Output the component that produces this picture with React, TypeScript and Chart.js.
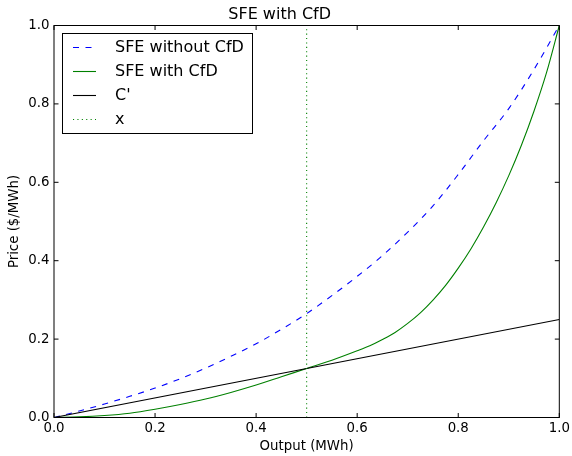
import React, { useEffect, useRef } from "react";
import { Chart, registerables } from "chart.js";

Chart.register(...registerables);

// ---- data ----
const outputMWh = [0, 0.05, 0.1, 0.15, 0.2, 0.25, 0.3, 0.35, 0.4, 0.45, 0.5, 0.55, 0.6, 0.65, 0.7, 0.75, 0.8, 0.85, 0.9, 0.95, 1.0];
const sfeWithoutCfD = [0, 0.0165, 0.0345, 0.054, 0.075, 0.099, 0.126, 0.156, 0.188, 0.225, 0.265, 0.311, 0.36, 0.413, 0.473, 0.54, 0.62, 0.706, 0.788, 0.888, 1.0];
const outputWithCfD = [0, 0.05, 0.1, 0.15, 0.2, 0.25, 0.3, 0.35, 0.4, 0.45, 0.5, 0.55, 0.6, 0.625, 0.65, 0.675, 0.7, 0.725, 0.75, 0.775, 0.8, 0.825, 0.85, 0.875, 0.9, 0.925, 0.95, 0.975, 1.0];
const sfeWithCfD = [0, 0.0015, 0.005, 0.011, 0.021, 0.033, 0.047, 0.064, 0.083, 0.104, 0.125, 0.146, 0.17, 0.183, 0.199, 0.217, 0.24, 0.267, 0.2995, 0.337, 0.381, 0.43, 0.486, 0.548, 0.617, 0.6945, 0.782, 0.881, 1.0];
const marginalCostX = [0, 1];
const marginalCostY = [0, 0.25];
const contractX = [0.5, 0.5];
const contractY = [0, 1];
const tickValues = [0, 0.2, 0.4, 0.6, 0.8, 1.0];
const seriesLabels = ["SFE without CfD", "SFE with CfD", "C'", "x"];

const FONT = "DejaVu Sans, Verdana, sans-serif";

const toPoints = (xs: number[], ys: number[]) => xs.map((x, i) => ({ x, y: ys[i] }));

const framePlugin = {
  id: "frameTicks",
  afterDatasetsDraw(chart: any) {
    const { ctx, chartArea, scales } = chart;
    const { left, right, top, bottom } = chartArea;
    ctx.save();
    ctx.strokeStyle = "#000";
    ctx.lineWidth = 1;
    ctx.setLineDash([]);
    const tl = 4.5;
    ctx.beginPath();
    for (const v of tickValues) {
      const px = scales.x.getPixelForValue(v);
      ctx.moveTo(px, bottom);
      ctx.lineTo(px, bottom - tl);
      ctx.moveTo(px, top);
      ctx.lineTo(px, top + tl);
      const py = scales.y.getPixelForValue(v);
      ctx.moveTo(left, py);
      ctx.lineTo(left + tl, py);
      ctx.moveTo(right, py);
      ctx.lineTo(right - tl, py);
    }
    ctx.stroke();
    ctx.strokeRect(left, top, right - left, bottom - top);
    ctx.restore();
  },
};

const legendPlugin = {
  id: "boxLegend",
  afterDraw(chart: any) {
    const { ctx } = chart;
    ctx.save();
    const bx = 62.5, by = 33.5, bw = 190, bh = 100;
    ctx.fillStyle = "#fff";
    ctx.fillRect(bx, by, bw, bh);
    ctx.strokeStyle = "#000";
    ctx.lineWidth = 1;
    ctx.setLineDash([]);
    ctx.strokeRect(bx, by, bw, bh);
    ctx.font = `16px ${FONT}`;
    ctx.textBaseline = "middle";
    ctx.textAlign = "left";
    chart.data.datasets.forEach((ds: any, i: number) => {
      const y = 47.5 + i * 24;
      ctx.beginPath();
      ctx.strokeStyle = ds.borderColor;
      ctx.lineWidth = ds.borderWidth;
      ctx.setLineDash(ds.borderDash || []);
      ctx.moveTo(73, y);
      ctx.lineTo(96, y);
      ctx.stroke();
      ctx.setLineDash([]);
      ctx.fillStyle = "#000";
      ctx.fillText(ds.label, 115, y);
    });
    ctx.restore();
  },
};

export default function App() {
  const ref = useRef<HTMLCanvasElement | null>(null);
  useEffect(() => {
    if (!ref.current) return;
    const zeroPad = (s: any) => {
      s.paddingLeft = 0;
      s.paddingRight = 0;
      s.paddingTop = 0;
      s.paddingBottom = 0;
    };
    const chart = new Chart(ref.current, {
      type: "line",
      data: {
        datasets: [
          {
            label: seriesLabels[0],
            data: toPoints(outputMWh, sfeWithoutCfD),
            borderColor: "#0000ff",
            borderWidth: 1.1,
            borderDash: [6, 6.5],
            pointRadius: 0,
            fill: false,
            cubicInterpolationMode: "monotone",
            order: 4,
          },
          {
            label: seriesLabels[1],
            data: toPoints(outputWithCfD, sfeWithCfD),
            borderColor: "#008000",
            borderWidth: 1.1,
            pointRadius: 0,
            fill: false,
            cubicInterpolationMode: "monotone",
            order: 3,
          },
          {
            label: seriesLabels[2],
            data: toPoints(marginalCostX, marginalCostY),
            borderColor: "#000000",
            borderWidth: 1.1,
            pointRadius: 0,
            fill: false,
            order: 2,
          },
          {
            label: seriesLabels[3],
            data: toPoints(contractX, contractY),
            borderColor: "#008000",
            borderWidth: 1.1,
            borderDash: [1.1, 3.3],
            pointRadius: 0,
            fill: false,
            order: 1,
          },
        ] as any,
      },
      options: {
        responsive: false,
        animation: false,
        devicePixelRatio: 1,
        layout: { padding: { left: 0, right: 12.7, top: 0, bottom: 0 } },
        plugins: {
          legend: { display: false },
          tooltip: { enabled: false },
          title: {
            display: true,
            text: "SFE with CfD",
            color: "#000",
            font: { family: FONT, size: 16, weight: "normal" as any, lineHeight: 1.2 },
            padding: { top: 4.9, bottom: 1.4 },
          },
        },
        scales: {
          x: {
            type: "linear",
            min: 0,
            max: 1,
            grid: { display: false, drawTicks: false },
            border: { display: false },
            afterBuildTicks: (s: any) => {
              s.ticks = tickValues.map((v) => ({ value: v }));
            },
            afterFit: (s: any) => {
              s.height = 38.5;
              zeroPad(s);
            },
            ticks: {
              padding: 3,
              maxRotation: 0,
              autoSkip: false,
              color: "#000",
              font: { family: FONT, size: 13.33, lineHeight: 1.2 },
              callback: (v: any) => Number(v).toFixed(1),
            },
            title: {
              display: true,
              text: "Output (MWh)",
              color: "#000",
              font: { family: FONT, size: 13.33, lineHeight: 1.2 },
              padding: { top: 0, bottom: 1.5 },
            },
          },
          y: {
            type: "linear",
            min: 0,
            max: 1,
            grid: { display: false, drawTicks: false },
            border: { display: false },
            afterBuildTicks: (s: any) => {
              s.ticks = tickValues.map((v) => ({ value: v }));
            },
            afterFit: (s: any) => {
              s.width = 54;
              zeroPad(s);
            },
            ticks: {
              padding: 4.5,
              autoSkip: false,
              color: "#000",
              font: { family: FONT, size: 13.33, lineHeight: 1.2 },
              callback: (v: any) => Number(v).toFixed(1),
            },
            title: {
              display: true,
              text: "Price ($/MWh)",
              color: "#000",
              font: { family: FONT, size: 13.33, lineHeight: 1.2 },
              padding: { top: 6.5, bottom: 0 },
            },
          },
        },
      } as any,
      plugins: [framePlugin, legendPlugin],
    });
    return () => chart.destroy();
  }, []);

  return (
    <div style={{ position: "fixed", left: 0, top: 0, width: 572, height: 456, background: "#fff" }}>
      <canvas ref={ref} width={572} height={456} style={{ width: 572, height: 456, display: "block" }} />
    </div>
  );
}
